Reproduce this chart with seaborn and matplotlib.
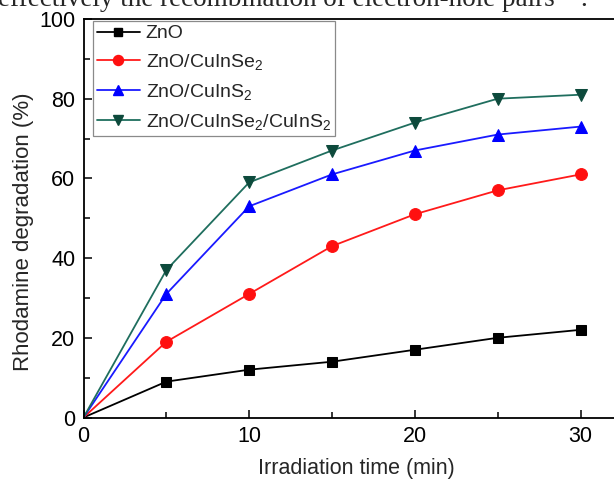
import numpy as np
import pandas as pd
import matplotlib
matplotlib.use("Agg")
import matplotlib.pyplot as plt
from matplotlib.lines import Line2D
from matplotlib.ticker import MultipleLocator
import seaborn as sns

# ---- data ----
time_min = [0, 5, 10, 15, 20, 25, 30]
zno = [0, 9, 12, 14, 17, 20, 22]
zno_cuinse2 = [0, 19, 31, 43, 51, 57, 61]
zno_cuins2 = [0, 31, 53, 61, 67, 71, 73]
zno_cuinse2_cuins2 = [0, 37, 59, 67, 74, 80, 81]

series_names = ["ZnO", "ZnO/CuInSe$_2$", "ZnO/CuInS$_2$", "ZnO/CuInSe$_2$/CuInS$_2$"]
series_values = [zno, zno_cuinse2, zno_cuins2, zno_cuinse2_cuins2]

x_label = "Irradiation time (min)"
y_label = "Rhodamine degradation (%)"
caption_text = "effectively the recombination of electron-hole pairs"

# ---- style ----
sns.set_style("white")
plt.rcParams["font.family"] = ["Liberation Sans", "DejaVu Sans"]
plt.rcParams["mathtext.fontset"] = "custom"
plt.rcParams["mathtext.rm"] = "Liberation Sans"
plt.rcParams["mathtext.it"] = "Liberation Sans:italic"
plt.rcParams["mathtext.bf"] = "Liberation Sans:bold"

line_colors = ["#000000", "#ff1a1a", "#1a1aff", "#1f6e5e"]
marker_colors = ["#000000", "#ff1010", "#0000ff", "#0d4a3c"]
markers = ["s", "o", "^", "v"]
marker_sizes = [7, 8.5, 8, 8]

df = pd.DataFrame({
    "time": time_min * len(series_names),
    "value": [v for vals in series_values for v in vals],
    "series": [n for n in series_names for _ in time_min],
})

W, H = 614, 483
fig = plt.figure(figsize=(W / 100, H / 100), dpi=100)
fig.patch.set_facecolor("white")

px_per_unit = (580.5 - 83.5) / 30.0
ax_w_px = 33 * px_per_unit
ax = fig.add_axes([83.5 / W, 1 - 417.5 / H, ax_w_px / W, (417.5 - 19) / H])

for name, lc, mc, mk, ms in zip(series_names, line_colors, marker_colors, markers, marker_sizes):
    sub = df[df["series"] == name]
    sns.lineplot(data=sub, x="time", y="value", ax=ax, color=lc, linewidth=1.3,
                 marker=mk, markersize=ms, markerfacecolor=mc, markeredgecolor=mc,
                 markevery=slice(1, None), legend=False, clip_on=True)

ax.set_xlim(0, 33)
ax.set_ylim(0, 100)
ax.xaxis.set_major_locator(MultipleLocator(10))
ax.xaxis.set_minor_locator(MultipleLocator(5))
ax.yaxis.set_major_locator(MultipleLocator(20))
ax.yaxis.set_minor_locator(MultipleLocator(10))
ax.tick_params(axis="both", which="major", direction="in", length=6, width=1.1,
               labelsize=15.5, color="black", labelcolor="black")
ax.tick_params(axis="both", which="minor", direction="in", length=4, width=1.1, color="black")
ax.tick_params(axis="x", which="both", bottom=True, top=False, pad=6)
ax.tick_params(axis="y", which="both", left=True, right=False, pad=6)
for s in ax.spines.values():
    s.set_linewidth(1.3)
    s.set_color("black")

ax.set_xlabel(x_label, fontsize=15.5, labelpad=8)
ax.set_ylabel(y_label, fontsize=16)
ax.yaxis.set_label_coords((34 - 83.5) / ax_w_px, (417.5 - 232) / (417.5 - 19))

handles = [Line2D([0], [0], color=lc, lw=1.3, marker=mk, markersize=ms * 0.85,
                  markerfacecolor=mc, markeredgecolor=mc)
           for lc, mc, mk, ms in zip(line_colors, marker_colors, markers, marker_sizes)]
leg = ax.legend(handles, series_names, loc="upper left",
                bbox_to_anchor=(93 / W, 1 - 21 / H), bbox_transform=fig.transFigure,
                fontsize=14, frameon=True, fancybox=False, framealpha=1,
                edgecolor="#8a8a8a", handlelength=2.2, handletextpad=0.3,
                borderpad=0.2, labelspacing=0.5, borderaxespad=0)
leg.get_frame().set_linewidth(0.9)

# clipped caption line from the page above the chart
cap = fig.text(-2 / W, 1 - 5.5 / H, caption_text, fontsize=17,
               family=["Liberation Serif", "DejaVu Serif"], va="baseline", ha="left")
fig.canvas.draw()
wpx = cap.get_window_extent().width
cap.set_fontsize(17 * 558 / wpx)
fig.text(580 / W, 1 - 5.5 / H, ".", fontsize=17 * 558 / wpx,
         family=["Liberation Serif", "DejaVu Serif"], va="baseline", ha="left")

fig.savefig("out.png", dpi=100, facecolor="white")
